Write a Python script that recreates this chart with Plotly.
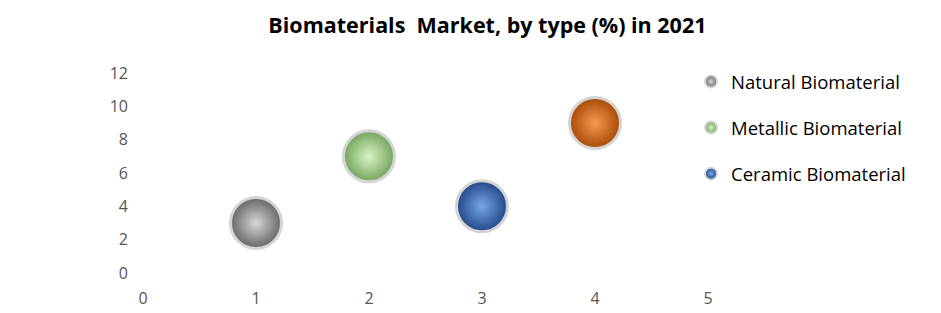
import plotly.graph_objects as go

# Data
names = ["Natural Biomaterial", "Metallic Biomaterial", "Ceramic Biomaterial", "Other Biomaterial"]
x_vals = [1, 2, 3, 4]
y_vals = [3, 7, 4, 9]
show_in_legend = [True, True, True, False]
edge_colors = ["#666666", "#74a45e", "#224787", "#a84805"]
center_colors = ["#d6d6d6", "#d8f4c4", "#77a6e6", "#f79c50"]

x_ticks = [0, 1, 2, 3, 4, 5]
y_ticks = [0, 2, 4, 6, 8, 10, 12]

fig = go.Figure()
for i, name in enumerate(names):
    fig.add_trace(go.Scatter(
        x=[x_vals[i]], y=[y_vals[i]],
        mode="markers",
        name=name,
        showlegend=show_in_legend[i],
        legendgroup=name,
        marker=dict(
            size=51,
            color=edge_colors[i],
            gradient=dict(type="radial", color=center_colors[i]),
            line=dict(color="#d4d4d4", width=3),
        ),
    ))

fig.update_layout(
    width=941, height=313,
    margin=dict(l=143, r=233, t=73, b=40),
    paper_bgcolor="white", plot_bgcolor="white",
    title=dict(
        text="<b>Biomaterials&nbsp; Market, by type (%) in 2021</b>",
        x=0.518, xanchor="center", y=0.918, yanchor="middle",
        font=dict(family="Open Sans", size=21.5, color="#000000"),
    ),
    font=dict(family="Open Sans"),
    xaxis=dict(
        range=[0, 5], tickvals=x_ticks, showgrid=False, zeroline=False,
        showline=False, ticks="", tickfont=dict(size=16, color="#555555"),
        ticklabelstandoff=14, automargin=False,
    ),
    yaxis=dict(
        range=[0, 12], tickvals=y_ticks, showgrid=False, zeroline=False,
        showline=False, ticks="", tickfont=dict(size=16, color="#555555"),
        ticklabelstandoff=14, automargin=False,
    ),
    legend=dict(
        x=0.97, y=1.05, xanchor="left", yanchor="top",
        font=dict(size=18.5, color="#000000"),
        itemsizing="constant", tracegroupgap=19,
        bgcolor="rgba(0,0,0,0)",
    ),
)

fig.write_html("out.html")
